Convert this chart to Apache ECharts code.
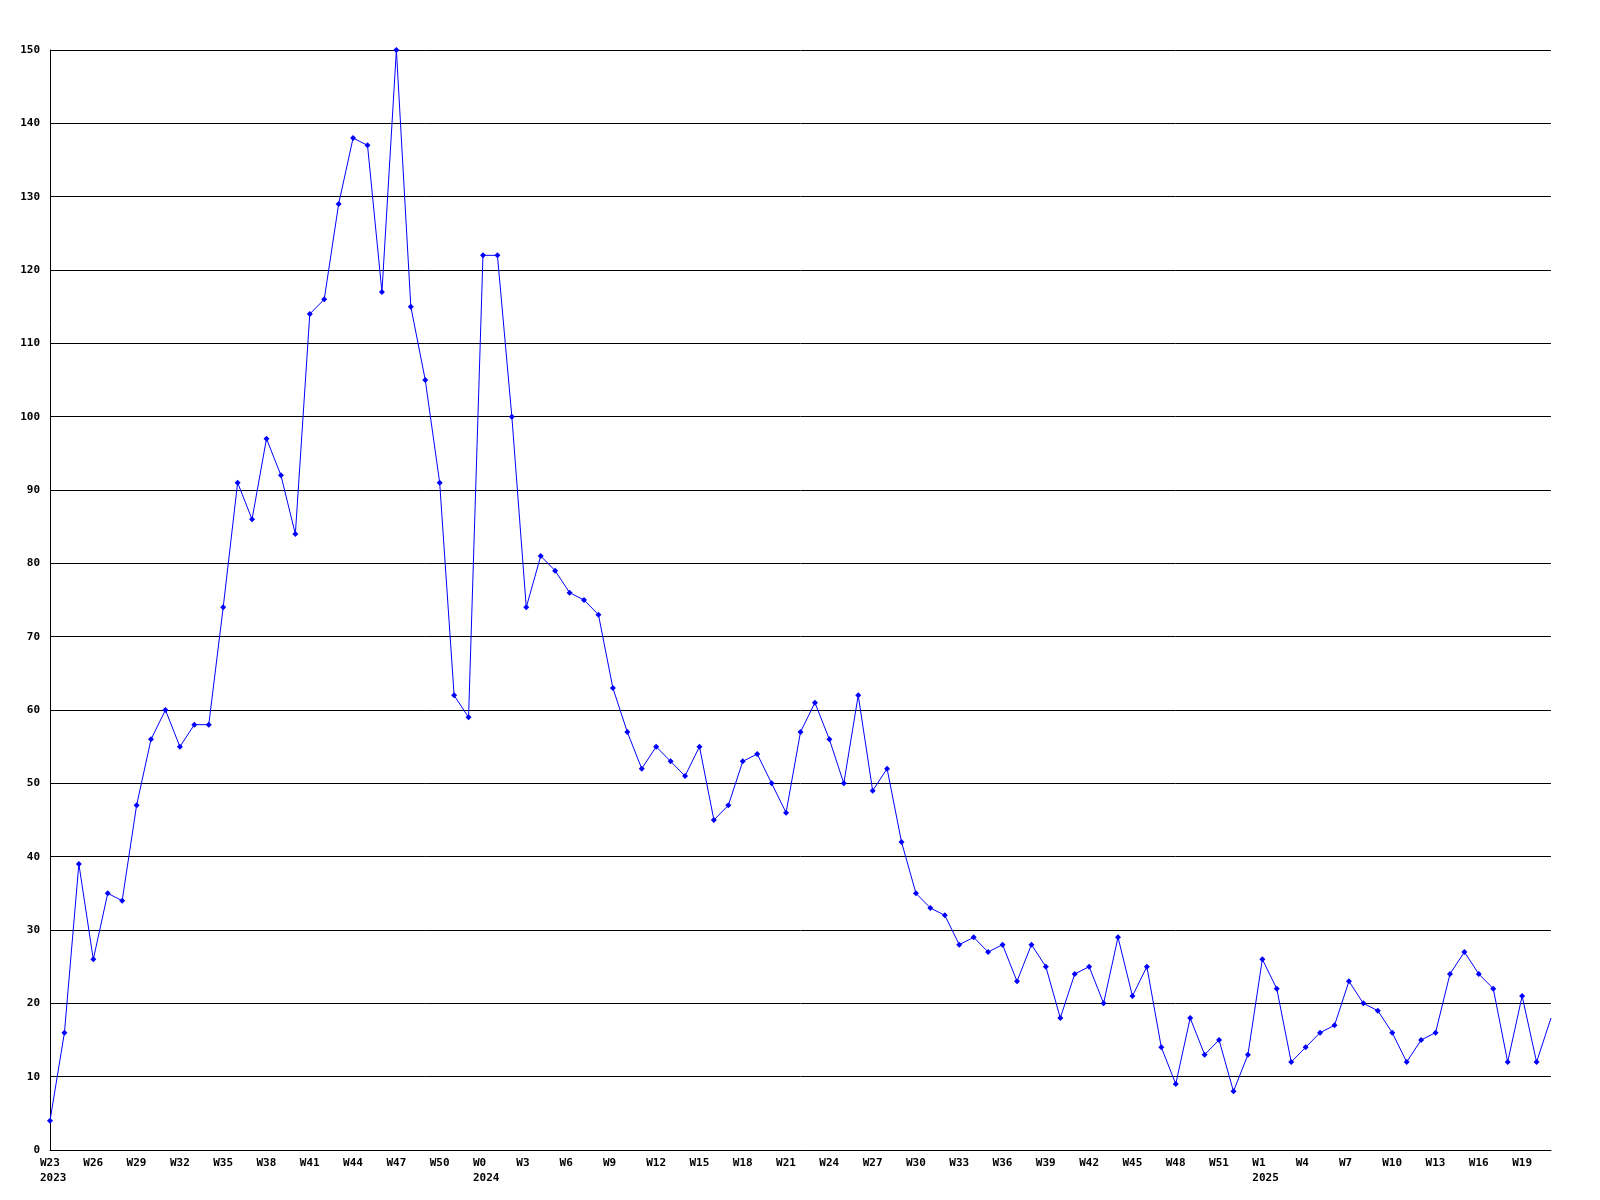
<!DOCTYPE html>
<html>
<head>
<meta charset="utf-8">
<script src="https://cdn.jsdelivr.net/npm/echarts@6/dist/echarts.min.js"></script>
<style>
  html, body { margin: 0; padding: 0; background: #ffffff; }
  #chart { width: 1600px; height: 1200px; }
</style>
</head>
<body>
<div id="chart"></div>
<script>
// Week categories (year + week label)
const weeks2023 = ['W23','W24','W25','W26','W27','W28','W29','W30','W31','W32','W33','W34','W35','W36','W37','W38','W39','W40','W41','W42','W43','W44','W45','W46','W47','W48','W49','W50','W51','W52'];
const weeks2024 = ['W0','W1','W2','W3','W4','W5','W6','W7','W8','W9','W10','W11','W12','W13','W14','W15','W16','W17','W18','W19','W20','W21','W22','W23','W24','W25','W26','W27','W28','W29','W30','W31','W32','W33','W34','W35','W36','W37','W38','W39','W40','W41','W42','W43','W44','W45','W46','W47','W48','W49','W50','W51','W52'];
const weeks2025 = ['W0','W1','W2','W3','W4','W5','W6','W7','W8','W9','W10','W11','W12','W13','W14','W15','W16','W17','W18','W19','W20','W21'];

// Weekly values
const values2023 = [4,16,39,26,35,34,47,56,60,55,58,58,74,91,86,97,92,84,114,116,129,138,137,117,150,115,105,91,62,59];
const values2024 = [122,122,100,74,81,79,76,75,73,63,57,52,55,53,51,55,45,47,53,54,50,46,57,61,56,50,62,49,52,42,35,33,32,28,29,27,28,23,28,25,18,24,25,20,29,21,25,14,9,18,13,15,8];
const values2025 = [13,26,22,12,14,16,17,23,20,19,16,12,15,16,24,27,24,22,12,21,12,18];

// Y-axis ticks
const yMin = 0, yMax = 150, yStep = 10;

const categories = []
  .concat(weeks2023.map(w => '2023 ' + w))
  .concat(weeks2024.map(w => '2024 ' + w))
  .concat(weeks2025.map(w => '2025 ' + w));
const values = [].concat(values2023, values2024, values2025);

const FONT = '"DejaVu Sans Mono", "Liberation Mono", monospace';
const LABEL_EVERY = 3;

const chart = echarts.init(document.getElementById('chart'), null, { renderer: 'canvas' });
chart.setOption({
  backgroundColor: '#ffffff',
  animation: false,
  grid: { left: 50, right: 49, top: 50, bottom: 50, containLabel: false },
  xAxis: {
    type: 'category',
    data: categories,
    boundaryGap: false,
    axisLine: { show: true, lineStyle: { color: '#000', width: 1 } },
    axisTick: { show: false },
    splitLine: { show: false },
    axisLabel: {
      interval: LABEL_EVERY - 1,
      margin: 6,
      align: 'center',
      formatter: function (value, index) {
        const parts = value.split(' ');
        const year = parts[0], wk = parts[1];
        const prev = index - LABEL_EVERY >= 0 ? categories[index - LABEL_EVERY].split(' ')[0] : null;
        if (prev !== year) {
          return '{a|' + wk + '}\n{a|' + year + '}';
        }
        return '{a|' + wk + '}';
      },
      rich: {
        a: { width: 20, align: 'left', fontFamily: FONT, fontSize: 11, fontWeight: 'bold', color: '#000', lineHeight: 15 }
      }
    }
  },
  yAxis: {
    type: 'value',
    min: yMin,
    max: yMax,
    interval: yStep,
    axisLine: { show: true, lineStyle: { color: '#000', width: 1 } },
    axisTick: { show: false },
    splitLine: { show: true, lineStyle: { color: '#000', width: 1 } },
    axisLabel: { margin: 10, fontFamily: FONT, fontSize: 11, fontWeight: 'bold', color: '#000' }
  },
  series: [{
    type: 'line',
    data: values.map((v, i) => i === values.length - 1 ? { value: v, symbol: 'none' } : v),
    symbol: 'diamond',
    symbolSize: 6,
    showSymbol: true,
    showAllSymbol: true,
    lineStyle: { color: '#0000ff', width: 1 },
    itemStyle: { color: '#0000ff' },
    clip: true
  }]
});
</script>
</body>
</html>
